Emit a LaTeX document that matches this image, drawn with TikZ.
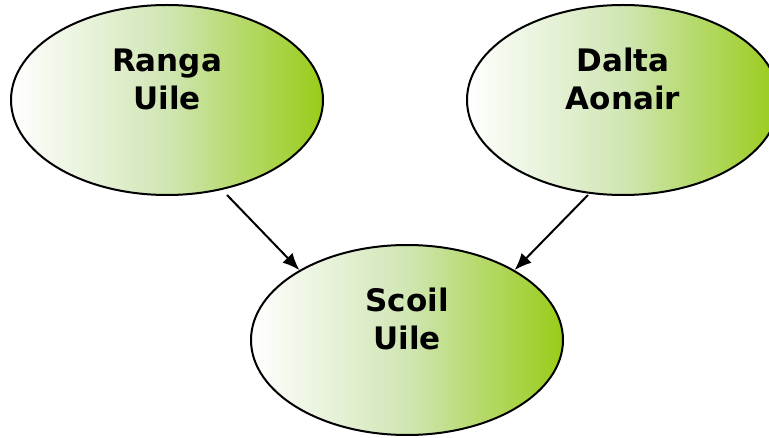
\documentclass[tikz,border=0pt]{standalone}
\usepackage{fontspec}
\setmainfont{DejaVu Sans}
\usetikzlibrary{shapes.geometric,arrows.meta}
\definecolor{leafgreen}{RGB}{153,204,25}
\definecolor{leafmid}{RGB}{208,230,180}
\pgfdeclarehorizontalshading{leaf}{100bp}{color(0bp)=(white); color(25bp)=(white); color(50bp)=(leafmid); color(75bp)=(leafgreen); color(100bp)=(leafgreen)}

\begin{document}
\begin{tikzpicture}[x=1pt,y=-1pt,
	blob/.style={shape=ellipse,draw=black,line width=2pt,minimum width=312pt,minimum height=190pt,inner sep=0pt,shading=leaf},
	blobtext/.style={align=center,inner sep=0pt,font=\fontsize{31}{38}\selectfont\bfseries},
	link/.style={line width=2pt,-{Latex[length=17pt,width=14pt]}}]
	\useasboundingbox (0,0) rectangle (769,438);
	\node[blob] (ranga) at (167, 100) {};
	\node[blob] (dalta) at (623, 100) {};
	\node[blob] (scoil) at (407, 340) {};
	\node[blobtext] (rangatext) at ([yshift=21pt]ranga.center) {Ranga\\Uile};
	\node[blobtext] (daltatext) at ([yshift=21pt]dalta.center) {Dalta\\Aonair};
	\node[blobtext] (scoiltext) at ([yshift=21pt]scoil.center) {Scoil\\Uile};
	\draw[link] ([xshift=60pt,yshift=1pt]ranga.south) -- (scoil.147);
	\draw[link] ([xshift=-35pt,yshift=1pt]dalta.south) -- (scoil.33);
\end{tikzpicture}
\end{document}
